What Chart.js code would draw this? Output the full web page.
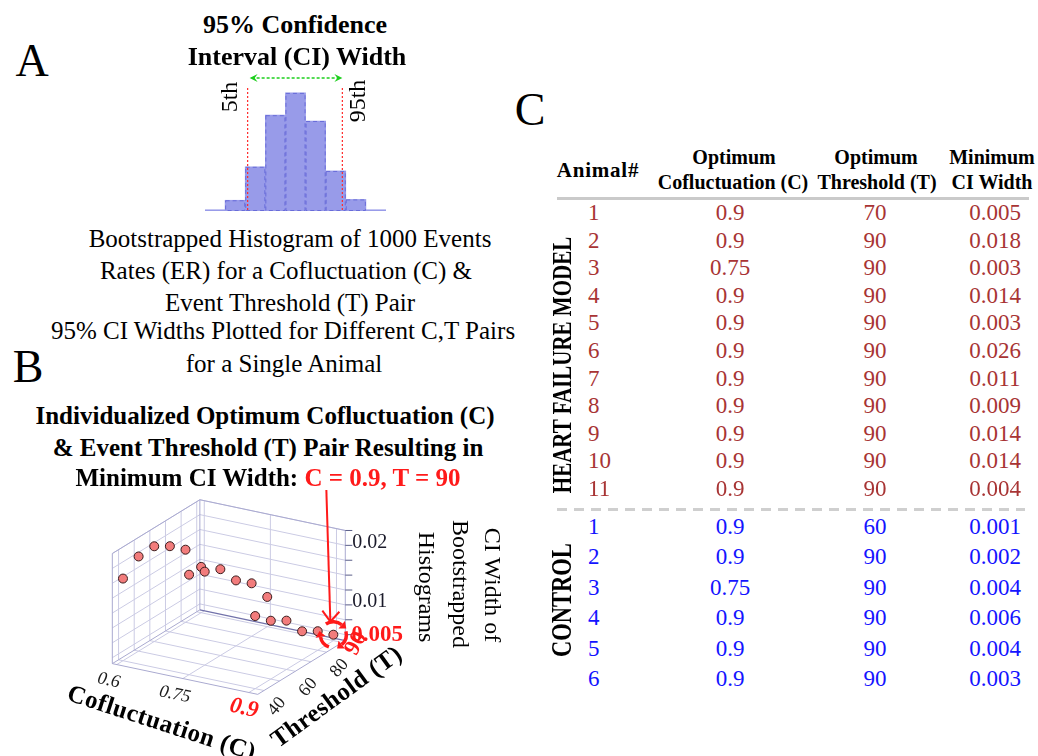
<!DOCTYPE html>
<html>
<head>
<meta charset="utf-8">
<script src="https://cdn.jsdelivr.net/npm/chart.js@4.4.0/dist/chart.umd.min.js"></script>
<style>
  html, body { margin: 0; padding: 0; background: #fff; }
  #page { position: relative; width: 1038px; height: 756px; overflow: hidden;
          font-family: "Liberation Serif", "Times New Roman", serif; color: #000; }
  .t { position: absolute; white-space: nowrap; line-height: 1; transform-origin: center center; }
  canvas { position: absolute; }
</style>
</head>
<body>
<div id="page">
  <canvas id="hist" width="210" height="160" style="left:195px;top:60px"></canvas>
  <canvas id="surf" width="480" height="276" style="left:40px;top:480px"></canvas>
</div>
<script>
// ---- A: bootstrapped event-rate histogram (1000 resamples) ----
const histCounts = [3, 26, 107, 232, 286, 218, 97, 28, 3];
const pct5 = 2.12;   // 5th / 95th percentile, in bin units
const pct95 = 6.83;

// ---- B: CI width for every (C, T) pair of one animal ----
const cofluct = [0.6, 0.6, 0.6, 0.6, 0.6, 0.6,
                 0.75, 0.75, 0.75, 0.75, 0.75, 0.75,
                 0.9, 0.9, 0.9, 0.9, 0.9, 0.9];
const thresh  = [40, 50, 60, 70, 80, 90,
                 40, 50, 60, 70, 80, 90,
                 40, 50, 60, 70, 80, 90];
const ciWidth = [0.0178, 0.0199, 0.0200, 0.0184, 0.0162, 0.0117,
                 0.0208, 0.0197, 0.0185, 0.0150, 0.0129, 0.0090,
                 0.0162, 0.0138, 0.0122, 0.0088, 0.0072, 0.005];
const cTicks = [0.6, 0.75, 0.9];
const tTicks = [40, 60, 80];
const zTicks = [0.01, 0.02];
const cGrid = [0.6, 0.75, 0.9];
const tGrid = [40, 50, 60, 70, 80, 90];
const zGrid = [0.005, 0.0075, 0.01, 0.0125, 0.015, 0.0175, 0.02, 0.0225];
const cRange = [0.59, 0.92];
const tRange = [36, 92];
const zRange = [0.004, 0.0225];

// ---- C: optimum pair per animal ----
const hfAnimal = [1, 2, 3, 4, 5, 6, 7, 8, 9, 10, 11];
const hfC  = [0.9, 0.9, 0.75, 0.9, 0.9, 0.9, 0.9, 0.9, 0.9, 0.9, 0.9];
const hfT  = [70, 90, 90, 90, 90, 90, 90, 90, 90, 90, 90];
const hfCI = [0.005, 0.018, 0.003, 0.014, 0.003, 0.026, 0.011, 0.009, 0.014, 0.014, 0.004];
const ctlAnimal = [1, 2, 3, 4, 5, 6];
const ctlC  = [0.9, 0.9, 0.75, 0.9, 0.9, 0.9];
const ctlT  = [60, 90, 90, 90, 90, 90];
const ctlCI = [0.001, 0.002, 0.004, 0.006, 0.004, 0.003];

const RED = '#ff1a1a';
const page = document.getElementById('page');

// positioned text, (x, y) is the centre of the line box
function label(html, x, y, o = {}) {
  const d = document.createElement('div');
  d.className = 't';
  d.innerHTML = html;
  d.style.left = x + 'px';
  d.style.top = y + 'px';
  d.style.fontSize = (o.size || 24) + 'px';
  if (o.bold) d.style.fontWeight = 'bold';
  if (o.color) d.style.color = o.color;
  if (o.spacing) d.style.letterSpacing = o.spacing + 'px';
  const ax = o.align === 'left' ? '0' : '-50%';
  const rot = o.rot ? ` rotate(${o.rot}deg)` : '';
  const sc = o.scale ? ` scale(${o.scale[0]},${o.scale[1]})` : '';
  d.style.transform = `translate(${ax},-50%)${rot}${sc}`;
  page.appendChild(d);
  return d;
}

// optimum = smallest CI width
const optIdx = ciWidth.indexOf(Math.min(...ciWidth));
const optC = cofluct[optIdx], optT = thresh[optIdx], optZ = ciWidth[optIdx];

// ---------------- histogram ----------------
const histMarks = {
  id: 'histMarks',
  afterDatasetsDraw(chart) {
    const { ctx, chartArea } = chart;
    const xe = chart.scales.xe;
    ctx.save();
    // dashed bar outlines
    ctx.setLineDash([4, 3]);
    ctx.lineWidth = 1;
    ctx.strokeStyle = 'rgba(96,100,214,0.85)';
    chart.getDatasetMeta(0).data.forEach(b => {
      const { x, y, base, width } = b.getProps(['x', 'y', 'base', 'width'], true);
      if (base - y > 3) ctx.strokeRect(x - width / 2 + 0.5, y + 0.5, width - 1, base - y - 1);
    });
    // percentile markers
    ctx.setLineDash([2, 2]);
    ctx.strokeStyle = '#ff2a2a';
    ctx.lineWidth = 1.2;
    const x5 = xe.getPixelForValue(pct5), x95 = xe.getPixelForValue(pct95);
    [x5, x95].forEach(px => {
      ctx.beginPath();
      ctx.moveTo(px, chartArea.top - 2);
      ctx.lineTo(px, chartArea.bottom);
      ctx.stroke();
    });
    // CI width double arrow
    const ay = chartArea.top - 12;
    ctx.strokeStyle = '#1ccf1c';
    ctx.lineWidth = 1.5;
    ctx.setLineDash([3, 2]);
    ctx.beginPath();
    ctx.moveTo(x5 + 4, ay);
    ctx.lineTo(x95 - 2, ay);
    ctx.stroke();
    ctx.setLineDash([]);
    ctx.fillStyle = '#1ccf1c';
    [[x5 + 2, 1], [x95, -1]].forEach(([px, dir]) => {
      ctx.beginPath();
      ctx.moveTo(px, ay);
      ctx.lineTo(px + 8 * dir, ay - 4);
      ctx.lineTo(px + 5 * dir, ay);
      ctx.lineTo(px + 8 * dir, ay + 4);
      ctx.closePath();
      ctx.fill();
    });
    ctx.restore();
  }
};

new Chart(document.getElementById('hist'), {
  type: 'bar',
  data: {
    labels: histCounts.map((_, i) => 'bin ' + (i + 1)),
    datasets: [{
      data: histCounts,
      backgroundColor: '#989be9',
      borderWidth: 0,
      categoryPercentage: 1,
      barPercentage: 1
    }]
  },
  options: {
    responsive: false,
    animation: false,
    layout: { padding: { left: 10, right: 19, top: 30, bottom: 9 } },
    plugins: { legend: { display: false }, tooltip: { enabled: false } },
    scales: {
      x: { display: false },
      xe: { type: 'linear', axis: 'x', display: false, offset: false, min: 0, max: histCounts.length },
      y: { display: false, min: 0, max: 293 }
    }
  },
  plugins: [histMarks]
});

// ---------------- 3-D scatter ----------------
// oblique projection of (C, T, CI width) onto the view plane
function proj(c, t, z) {
  return { x: -255.3 + 451 * c + 1.6 * t, y: 189.1 + 97 * c - t - 6200 * z };
}
function pix(chart) {
  const { x, y } = chart.scales;
  return (c, t, z) => {
    const p = proj(c, t, z);
    return [x.getPixelForValue(p.x), y.getPixelForValue(p.y)];
  };
}
function ctext(ctx, s, x, y, font, color, rot, align) {
  ctx.save();
  ctx.translate(x, y);
  ctx.rotate((rot || 0) * Math.PI / 180);
  ctx.font = font;
  ctx.fillStyle = color;
  ctx.textAlign = align || 'center';
  ctx.textBaseline = 'middle';
  ctx.fillText(s, 0, 0);
  ctx.restore();
}

const box3d = {
  id: 'box3d',
  beforeDatasetsDraw(chart) {
    const { ctx } = chart;
    const P = pix(chart);
    const [c0, c1] = cRange, [t0, t1] = tRange, [z0, z1] = zRange;
    const line = (pts, color, w) => {
      ctx.beginPath();
      pts.forEach((p, i) => {
        const q = P(...p);
        i ? ctx.lineTo(q[0], q[1]) : ctx.moveTo(q[0], q[1]);
      });
      ctx.strokeStyle = color;
      ctx.lineWidth = w || 1;
      ctx.stroke();
    };
    ctx.save();
    const grid = '#cbcbe4';
    tGrid.forEach(t => {
      line([[c0, t, z0], [c1, t, z0]], grid);
      line([[c0, t, z0], [c0, t, z1]], grid);
    });
    cGrid.forEach(c => {
      line([[c, t0, z0], [c, t1, z0]], grid);
      line([[c, t1, z0], [c, t1, z1]], grid);
    });
    zGrid.forEach(z => line([[c0, t0, z], [c0, t1, z], [c1, t1, z]], grid));
    const edge = '#aaaad0';
    line([[c0, t0, z0], [c1, t0, z0], [c1, t1, z0]], edge);
    line([[c0, t0, z0], [c0, t1, z0]], edge);
    line([[c0, t0, z0], [c0, t0, z1], [c0, t1, z1], [c1, t1, z1], [c1, t1, z0]], edge);
    line([[c0, t1, z0], [c0, t1, z1]], edge);
    line([[c0, t1, z0], [c1, t1, z0]], '#7272aa', 1.2);
    // ticks on the CI-width axis
    ctx.strokeStyle = '#5a5e88';
    ctx.lineWidth = 1;
    zGrid.forEach(z => {
      const q = P(c1, t1, z);
      ctx.beginPath();
      ctx.moveTo(q[0], q[1]);
      ctx.lineTo(q[0] + 7, q[1]);
      ctx.stroke();
    });
    ctx.restore();
  },
  afterDraw(chart) {
    const { ctx } = chart;
    const P = pix(chart);
    const [c0, c1] = cRange, [t0, t1] = tRange, [z0] = zRange;
    const SERIF = '"Liberation Serif", "Times New Roman", serif';

    cTicks.forEach(c => {
      const q = P(c, t0, z0);
      if (c === optC) ctext(ctx, String(c), q[0] - 5, q[1] + 16, `italic bold 23px ${SERIF}`, RED, 12);
      else ctext(ctx, String(c), q[0] - 8, q[1] + 16, `italic 18px ${SERIF}`, '#1a1a1a', 12);
    });
    tTicks.forEach(t => {
      const q = P(c1, t, z0);
      ctext(ctx, String(t), q[0] + 13, q[1] + 16, `18px ${SERIF}`, '#1a1a1a', -50);
    });
    zTicks.forEach(z => {
      const q = P(c1, t1, z);
      ctext(ctx, String(z), q[0] + 7, q[1] - 3, `20px ${SERIF}`, '#1a1a2a', 0, 'left');
    });
    const zq = P(c1, t1, optZ);
    ctext(ctx, String(optZ), zq[0] + 6, zq[1], `bold 23px ${SERIF}`, RED, 0, 'left');
    const tq = P(c1, optT, z0);
    ctext(ctx, String(optT), tq[0] + 14, tq[1] + 1, `bold 23px ${SERIF}`, RED, -62);

    // arrow from the panel title down to the optimum point
    const o = P(optC, optT, optZ);
    ctx.save();
    ctx.strokeStyle = RED;
    ctx.fillStyle = RED;
    ctx.lineWidth = 2;
    ctx.beginPath();
    ctx.moveTo(o[0] - 7, 10);
    ctx.lineTo(o[0] - 3, o[1] - 13);
    ctx.stroke();
    ctx.beginPath();
    ctx.moveTo(o[0] - 11, o[1] - 24);
    ctx.lineTo(o[0] - 3, o[1] - 13);
    ctx.lineTo(o[0] + 6, o[1] - 23);
    ctx.stroke();
    // circular arrows around the optimum
    const r = 13;
    ctx.lineWidth = 3.5;
    [[-125, -50], [-15, 50], [110, 170]].forEach(([a, b]) => {
      ctx.beginPath();
      ctx.arc(o[0], o[1], r, a * Math.PI / 180, b * Math.PI / 180);
      ctx.stroke();
      const ang = b * Math.PI / 180;
      const hx = o[0] + r * Math.cos(ang), hy = o[1] + r * Math.sin(ang);
      const tx = -Math.sin(ang), ty = Math.cos(ang);
      const nx = Math.cos(ang), ny = Math.sin(ang);
      ctx.beginPath();
      ctx.moveTo(hx + tx * 6, hy + ty * 6);
      ctx.lineTo(hx + nx * 5, hy + ny * 5);
      ctx.lineTo(hx - nx * 5, hy - ny * 5);
      ctx.closePath();
      ctx.fill();
    });
    ctx.restore();
  }
};

new Chart(document.getElementById('surf'), {
  type: 'scatter',
  data: {
    datasets: [{
      data: cofluct.map((c, i) => proj(c, thresh[i], ciWidth[i])),
      pointRadius: 4.5,
      backgroundColor: '#f27c7c',
      borderColor: '#3a1d1d',
      borderWidth: 1
    }]
  },
  options: {
    responsive: false,
    animation: false,
    layout: { padding: 0 },
    plugins: { legend: { display: false }, tooltip: { enabled: false } },
    scales: {
      x: { type: 'linear', display: false, min: 0, max: 480 },
      y: { type: 'linear', display: false, min: 0, max: 276, reverse: true }
    }
  },
  plugins: [box3d]
});

// ---------------- texts ----------------
label('A', 32, 61, { size: 46 });
label('B', 28, 367, { size: 46 });
label('C', 530, 110, { size: 46 });

label('95% Confidence', 295, 25, { size: 26, bold: true });
label('Interval (CI) Width', 297, 57, { size: 26, bold: true });
label('5th', 229, 97, { size: 24, rot: -90 });
label('95th', 357, 101, { size: 24, rot: -90 });

label('Bootstrapped Histogram of 1000 Events', 290, 238, { size: 25 });
label('Rates (ER) for a Cofluctuation (C) &amp;', 286, 270, { size: 25 });
label('Event Threshold (T) Pair', 290, 302, { size: 25 });
label('95% CI Widths Plotted for Different C,T Pairs', 283, 330, { size: 25 });
label('for a Single Animal', 284, 363, { size: 25 });

label('Individualized Optimum Cofluctuation (C)', 265, 415, { size: 25, bold: true });
label('&amp; Event Threshold (T) Pair Resulting in', 268, 447, { size: 25, bold: true });
label(`Minimum CI Width: <span style="color:${RED}">C = ${optC}, T = ${optT}</span>`, 268, 477, { size: 25, bold: true });

label('Cofluctuation (C)', 162, 722, { size: 25, bold: true, rot: 18, spacing: 0.5 });
label('Threshold (T)', 336, 696, { size: 25, bold: true, rot: -36, spacing: 0.5 });
label('CI Width of', 493, 585, { size: 24, rot: 90 });
label('Bootstrapped', 461, 584, { size: 24, rot: 90 });
label('Histograms', 427, 587, { size: 24, rot: 90 });

// ---------------- table ----------------
label('Animal#', 598, 170, { size: 21, bold: true, spacing: 0.8 });
label('Optimum', 734, 157, { size: 20, bold: true });
label('Cofluctuation (C)', 733, 182, { size: 20, bold: true });
label('Optimum', 876, 157, { size: 20, bold: true });
label('Threshold (T)', 877, 182, { size: 20, bold: true });
label('Minimum', 992, 157, { size: 20, bold: true });
label('CI Width', 992, 182, { size: 20, bold: true });

const rule = document.createElement('div');
rule.style.cssText = 'position:absolute;left:557px;top:197px;width:472px;height:2.5px;background:#cacaca';
page.appendChild(rule);
const dashes = document.createElement('div');
dashes.style.cssText = 'position:absolute;left:557px;top:508px;width:468px;height:3px;' +
  'background:repeating-linear-gradient(90deg,#cfcfcf 0 10px,transparent 10px 17px)';
page.appendChild(dashes);

function rows(ids, cs, ts, cis, y0, dy, color) {
  ids.forEach((id, i) => {
    const y = y0 + i * dy;
    label(String(id), 588, y, { size: 23, color, align: 'left' });
    label(String(cs[i]), 730, y, { size: 23, color });
    label(String(ts[i]), 875, y, { size: 23, color });
    label(cis[i].toFixed(3), 995, y, { size: 23, color });
  });
}
rows(hfAnimal, hfC, hfT, hfCI, 212, 27.6, '#a83434');
rows(ctlAnimal, ctlC, ctlT, ctlCI, 526, 30.4, '#1414ff');

label('HEART FAILURE MODEL', 562, 365, { size: 21, bold: true, rot: -90, scale: [1, 1.35] });
label('CONTROL', 562, 600, { size: 22.5, bold: true, rot: -90, scale: [1, 1.35] });
</script>
</body>
</html>
